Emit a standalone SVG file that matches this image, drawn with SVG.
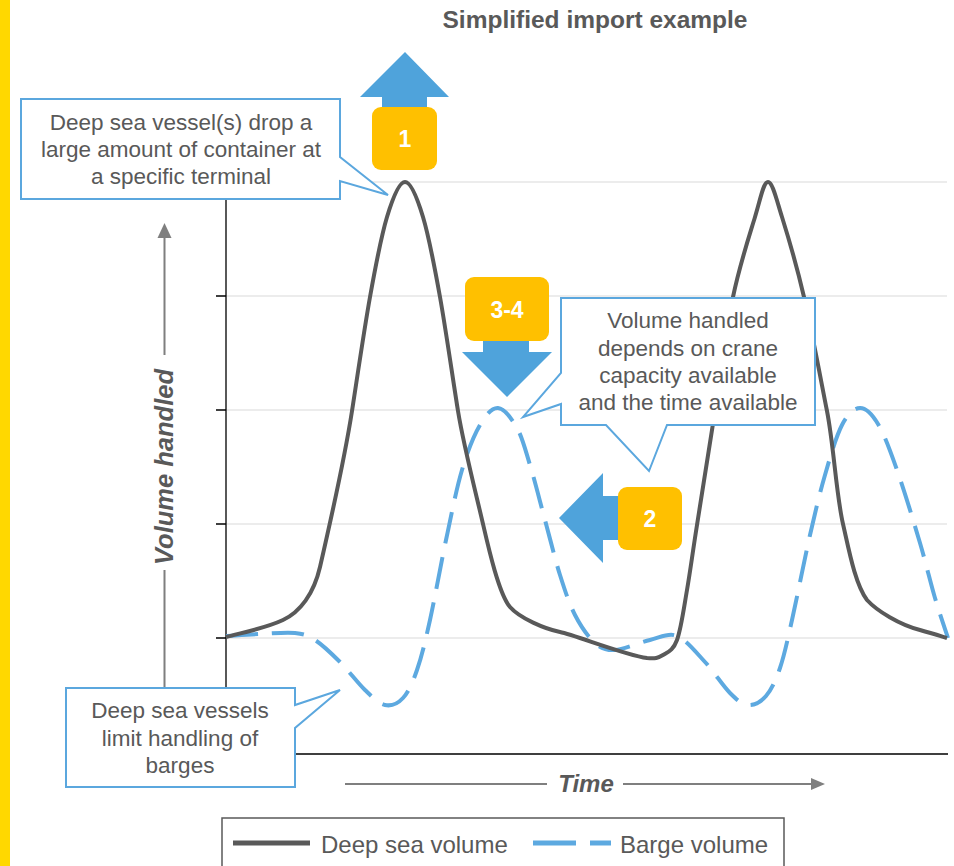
<svg xmlns="http://www.w3.org/2000/svg" width="954" height="866" viewBox="0 0 954 866">
<style>
.t{font-family:"Liberation Sans",Arial,sans-serif;fill:#595959}
.c{font-size:22.5px;text-anchor:middle}
.callout{fill:#fff;stroke:#5BA7DE;stroke-width:2}
.grid{stroke:#D9D9D9;stroke-width:1}
.ax{stroke:#000;stroke-width:1.3;fill:none}
.lab{stroke:#7F7F7F;stroke-width:2;fill:none}
.arr{fill:#4FA3DB}
.ybox{fill:#FFC000}
.num{font-family:"Liberation Sans",Arial,sans-serif;font-weight:bold;fill:#fff;font-size:23px;text-anchor:middle}
.deep{fill:none;stroke:#595959;stroke-width:4;stroke-linejoin:round}
.barge{fill:none;stroke:#5DA9E0;stroke-width:4;stroke-dasharray:32 14}
</style>
<rect x="0" y="0" width="954" height="866" fill="#fff"/>
<rect x="0" y="0" width="10" height="866" fill="#FFD800"/>
<text class="t" x="595" y="28" font-size="24.5" font-weight="bold" text-anchor="middle">Simplified import example</text>

<g id="axes">
<line class="grid" x1="226" y1="182" x2="947" y2="182"/>
<line class="grid" x1="226" y1="296" x2="947" y2="296"/>
<line class="grid" x1="226" y1="410" x2="947" y2="410"/>
<line class="grid" x1="226" y1="524" x2="947" y2="524"/>
<line class="grid" x1="226" y1="638" x2="947" y2="638"/>
<path class="ax" d="M226,182 V754 H948 M216,182 H226 M216,296 H226 M216,410 H226 M216,524 H226 M216,638 H226"/>
<path class="lab" d="M164.5,236 V355 M164.5,570 V690"/>
<polygon points="164.5,223 157.5,238 171.5,238" fill="#7F7F7F"/>
<text class="t" transform="translate(173,467) rotate(-90)" font-size="25.5" font-weight="bold" font-style="italic" text-anchor="middle">Volume handled</text>
<path class="lab" d="M345,784 H547 M623,784 H813"/>
<polygon points="825,784 811,778 811,790" fill="#7F7F7F"/>
<text class="t" x="586" y="792" font-size="24" font-weight="bold" font-style="italic" text-anchor="middle">Time</text>
</g>

<g id="connectors">
<path id="barge-curve" class="barge" d="M226,636 C231.7,635.7 248.5,634.5 260,634 C271.5,633.5 285.8,632 295,633 C304.2,634 307.5,635.2 315,640 C322.5,644.8 331.7,653.7 340,662 C348.3,670.3 357.5,682.8 365,690 C372.5,697.2 378.7,703.7 385,705 C391.3,706.3 397.7,703.8 403,698 C408.3,692.2 412.5,683 417,670 C421.5,657 425.2,641.7 430,620 C434.8,598.3 440.7,565 446,540 C451.3,515 456.3,489.2 462,470 C467.7,450.8 474,435.3 480,425 C486,414.7 491.8,407.5 498,408 C504.2,408.5 511.7,418.5 517,428 C522.3,437.5 525.3,449.7 530,465 C534.7,480.3 540,501.7 545,520 C550,538.3 555,559.2 560,575 C565,590.8 569.2,603.7 575,615 C580.8,626.3 588.3,637.2 595,643 C601.7,648.8 605.8,650.5 615,650 C624.2,649.5 639.7,642.3 650,640 C660.3,637.7 667.8,632.3 677,636 C686.2,639.7 696.2,652.5 705,662 C713.8,671.5 722.8,685.8 730,693 C737.2,700.2 742,704.5 748,705 C754,705.5 760.7,702.2 766,696 C771.3,689.8 775.7,680.7 780,668 C784.3,655.3 787,642.2 792,620 C797,597.8 804.5,559.2 810,535 C815.5,510.8 819.7,493.3 825,475 C830.3,456.7 836.2,436.2 842,425 C847.8,413.8 854,408.2 860,408 C866,407.8 871.8,413.7 878,424 C884.2,434.3 890,450.2 897,470 C904,489.8 913.7,521.7 920,543 C926.3,564.3 930.3,582.2 935,598 C939.7,613.8 945.8,631.3 948,638"/>
<path id="deep-curve" class="deep" d="M226,637 C245,632 266,628 283,620 C300,612 313.8,594 320,567 C331.5,517 344.2,461 352,411 C356.5,382.2 364.2,329.3 370,297 C375.8,264.7 381.2,236.2 387,217 C392.8,197.8 399,182 405,182 C411,182 417.2,197.8 423,217 C428.8,236.2 434.2,264.7 440,297 C445.8,329.3 453.3,382.2 458,411 C463.6,445.6 476.1,494 483,524 C488.75,549 499,594 510,607 C520,618.4 545,629 560,632 C575,635 625,655 647,658 C655.3,658.8 658,658 663,655 C668,652 673,650.8 677,640 C681,629.2 683.7,609.2 687,590 C690.3,570.8 692.3,554.8 697,525 C701.7,495.2 709,449 715,411 C721,373 726.3,329.3 733,297 C739.7,264.7 749.2,236.2 755,217 C760.8,197.8 763.5,182 768,182 C772.5,182 776,197.8 782,217 C788,236.2 796.5,264.7 804,297 C811.5,329.3 821.3,382.2 827,411 C833.8,445.6 836.1,494 843,524 C848.75,549 855,584 867,600 C877,611 900,625 920,630 C932,633.4 942,636.5 947,638"/>
</g>

<g id="callout-drop">
<path class="callout" d="M21,99 H340 V157 L388,195 L340,181 V199 H21 Z"/>
<text class="t c" x="181" y="130">Deep sea vessel(s) drop a</text>
<text class="t c" x="181" y="157">large amount of container at</text>
<text class="t c" x="181" y="184">a specific terminal</text>
</g>

<g id="callout-crane">
<path class="callout" d="M561,298 H815 V425 H667 L649,471 L606,425 H561 V404 L523,417 L561,373 Z"/>
<text class="t c" x="688" y="328">Volume handled</text>
<text class="t c" x="688" y="356">depends on crane</text>
<text class="t c" x="688" y="383">capacity available</text>
<text class="t c" x="688" y="410">and the time available</text>
</g>

<g id="callout-barges">
<path class="callout" d="M66,688 H295 V705 L340,690 L295,728 V787 H66 Z"/>
<text class="t c" x="180" y="718">Deep sea vessels</text>
<text class="t c" x="180" y="746">limit handling of</text>
<text class="t c" x="180" y="773">barges</text>
</g>

<g id="step-1">
<polygon class="arr" points="405,52 449,97 427,97 427,112 382,112 382,97 360,97"/>
<rect class="ybox" x="372" y="107" width="65" height="63" rx="9"/>
<text class="num" x="405" y="147">1</text>
</g>

<g id="step-3-4">
<polygon class="arr" points="483,335 529,335 529,352 552,352 507,397 462,352 483,352"/>
<rect class="ybox" x="465" y="277" width="84" height="64" rx="9"/>
<text class="num" x="507" y="318">3-4</text>
</g>

<g id="step-2">
<polygon class="arr" points="559,518 603,473 603,496 625,496 625,540 603,540 603,563"/>
<rect class="ybox" x="618" y="487" width="64" height="63" rx="9"/>
<text class="num" x="650" y="527">2</text>
</g>

<g id="legend">
<rect x="222" y="818" width="562" height="60" fill="#fff" stroke="#595959" stroke-width="1.5"/>
<line x1="233" y1="843" x2="310" y2="843" stroke="#595959" stroke-width="5"/>
<text class="t" x="321" y="853" font-size="24">Deep sea volume</text>
<line x1="533" y1="843" x2="576" y2="843" stroke="#5DA9E0" stroke-width="5"/>
<line x1="590" y1="843" x2="611" y2="843" stroke="#5DA9E0" stroke-width="5"/>
<text class="t" x="620" y="853" font-size="24">Barge volume</text>
</g>
</svg>
